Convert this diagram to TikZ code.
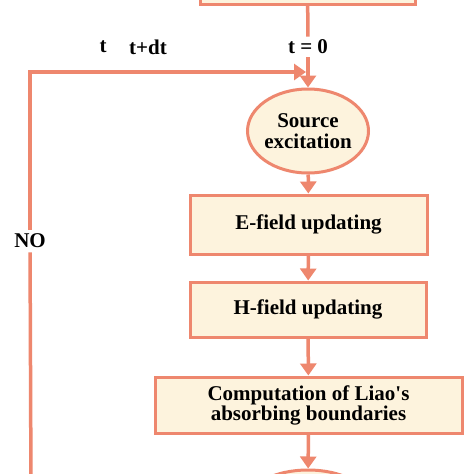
\documentclass[tikz,border=0pt]{standalone}
\usepackage{fontspec}
\setmainfont{Liberation Serif}
\newfontfamily\boxfont{Liberation Serif}
\usetikzlibrary{arrows.meta,shapes.geometric}
\definecolor{edge}{RGB}{238,135,110}
\definecolor{cream}{RGB}{253,243,221}
\tikzset{
  x=1pt,y=-1pt,
  flowbox/.style={draw=edge,fill=cream,line width=3pt,rectangle,inner sep=0pt,align=center,
    font=\boxfont\fontsize{21}{21}\selectfont\bfseries},
  flowoval/.style={draw=edge,fill=cream,line width=3pt,ellipse,inner sep=-8pt,align=center,
    font=\boxfont\fontsize{21}{21}\selectfont\bfseries},
  lbl/.style={inner sep=4pt,font=\boxfont\fontsize{21}{21}\selectfont\bfseries},
  conn/.style={draw=edge,line width=3.5pt},
  arr/.style={conn,-{Triangle[width=16pt,length=12pt]}}
}
\begin{document}
\begin{tikzpicture}
\clip (0,0) rectangle (474,474);
\fill[white] (0,0) rectangle (474,474);
\node[flowbox,minimum width=215pt,minimum height=50pt] (top) at (307.5,-21) {};
\node[lbl,inner sep=3pt] (t0) at (308,47) {t = 0};
\node[lbl] (tl) at (103,47) {t};
\node[lbl] (tdt) at (148,47) {t+dt};
\node[flowoval,minimum width=121pt,minimum height=84pt] (src) at (308,131) {Source\\excitation};
\node[flowbox,minimum width=237pt,minimum height=59pt] (ef) at (308.5,224.5) {E-field updating};
\node[flowbox,minimum width=236pt,minimum height=55pt] (hf) at (308,309.5) {H-field updating};
\node[flowbox,minimum width=307pt,minimum height=56pt,font=\boxfont\fontsize{21}{20}\selectfont\bfseries] (comp) at (308.5,405) {Computation of Liao's\\absorbing boundaries};
\node[flowoval,minimum width=120pt,minimum height=62pt] (end) at (308,501) {};
\node[lbl] (no) at (30,241) {NO};
\coordinate (lb) at (31,490);
\coordinate (join) at (306,72);
\draw[conn] (top) -- (t0);
\draw[arr] (t0) -- (src);
\draw[arr] (src) -- (ef);
\draw[arr] (ef) -- (hf);
\draw[arr] (hf) -- (comp);
\draw[arr] (comp) -- (end);
\draw[conn] (lb) -- (no);
\draw[arr] (no) |- (join);
\end{tikzpicture}
\end{document}
